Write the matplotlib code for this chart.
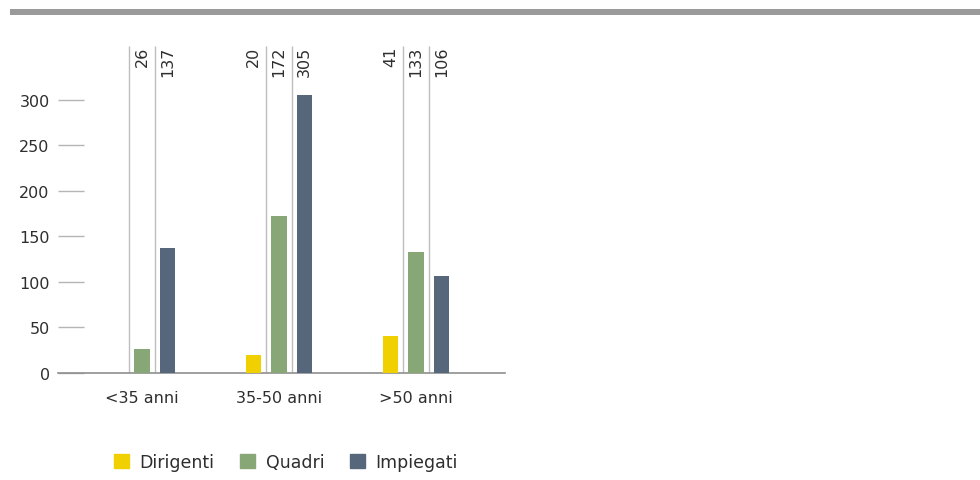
import matplotlib
matplotlib.use("Agg")
import matplotlib.pyplot as plt
from matplotlib.patches import Rectangle, Patch
import numpy as np

categories = ["<35 anni", "35-50 anni", ">50 anni"]
series_names = ["Dirigenti", "Quadri", "Impiegati"]
dirigenti = [None, 20, 41]
quadri = [26, 172, 133]
impiegati = [137, 305, 106]
yticks = [0, 50, 100, 150, 200, 250, 300]

colors = ["#f0d000", "#87a776", "#56677c"]
text_color = "#2e2e2e"

plt.rcParams["font.family"] = ["DejaVu Sans"]

fig = plt.figure(figsize=(9.8, 4.81), dpi=100)
ax = fig.add_axes([58 / 980, 1 - 374 / 481, (505 - 58) / 980, (374 - 47) / 481])

# gray band at the top
fig.add_artist(Rectangle((10 / 980, 1 - 16 / 481), 1, 6 / 481,
                         transform=fig.transFigure, color="#9a9a9a", lw=0))

x = np.arange(len(categories))
off = 0.186
width = 0.11
ytop = 359

for i, (name, vals) in enumerate(zip(series_names, [dirigenti, quadri, impiegati])):
    xs = x + (i - 1) * off
    heights = [v if v is not None else 0 for v in vals]
    ax.bar(xs, heights, width=width, color=colors[i], label=name, zorder=3)
    for xi, v in zip(xs, vals):
        if v is None:
            continue
        ax.text(xi, ytop, str(v), rotation=90, ha="center", va="top",
                fontsize=11.5, color=text_color)

# thin separators between bars
for g in x:
    ax.vlines([g - off / 2, g + off / 2], 0, ytop, color="#bdbdbd", lw=1, zorder=1)

ax.set_xlim((58 - 142) / 137, (505 - 142) / 137)
ax.set_ylim(0, ytop)
ax.set_yticks(yticks)
ax.set_xticks(x)
ax.set_xticklabels(categories)

for s in ["top", "right", "left"]:
    ax.spines[s].set_visible(False)
ax.spines["bottom"].set_color("#8f8f8f")
ax.spines["bottom"].set_linewidth(1.2)

ax.tick_params(axis="y", direction="in", length=19, width=1, color="#b5b5b5",
               pad=6, labelsize=11.5, labelcolor=text_color)
ax.tick_params(axis="x", length=0, pad=12, labelsize=11.5, labelcolor=text_color)

handles = [Patch(color=c, label=n) for c, n in zip(colors, series_names)]
fig.legend(handles=handles, loc="center", bbox_to_anchor=(286 / 980, 1 - 463 / 481),
           ncol=3, frameon=False, fontsize=12.5, handlelength=0.85, handleheight=0.85,
           handletextpad=0.6, columnspacing=1.5, labelcolor=text_color)

fig.savefig("out.png", dpi=100)
